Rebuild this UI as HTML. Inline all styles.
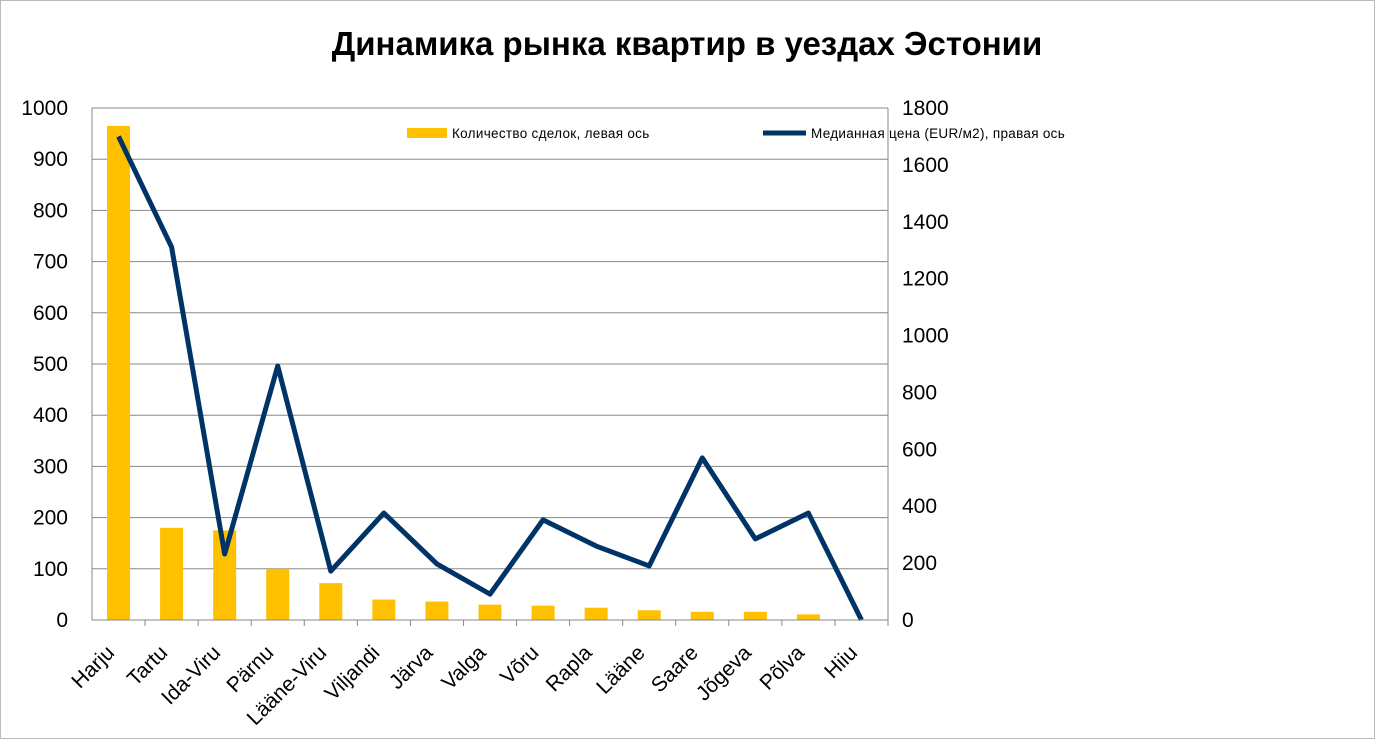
<!DOCTYPE html>
<html><head><meta charset="utf-8"><style>
body{margin:0;background:#fff;}
svg{display:block;font-family:"Liberation Sans",sans-serif;}
</style></head><body>
<svg id="chart" width="1375" height="739">
<rect x="0.5" y="0.5" width="1374" height="738" fill="#fff" stroke="#bbb"/>
<text x="687" y="55" text-anchor="middle" font-size="33" font-weight="bold">Динамика рынка квартир в уездах Эстонии</text>
<g id="grid"></g><g id="bars"></g><g id="line"></g><g id="axes"></g>
<g>
<rect x="407" y="128" width="40" height="10" fill="#FFC000"/>
<text x="452" y="138" font-size="13.5" letter-spacing="0.3">Количество сделок, левая ось</text>
<line x1="763" y1="133" x2="806" y2="133" stroke="#003366" stroke-width="5"/>
<text x="811" y="138" font-size="13.5" letter-spacing="0.3">Медианная цена (EUR/м2), правая ось</text>
</g>
</svg>
<script>
const categories=["Harju","Tartu","Ida-Viru","Pärnu","Lääne-Viru","Viljandi","Järva","Valga","Võru","Rapla","Lääne","Saare","Jõgeva","Põlva","Hiiu"];
const deals=[965,180,175,100,72,40,36,30,28,24,19,16,16,11,0];
const prices=[1700,1311,232,893,172,376,197,91,352,260,190,570,285,376,0];
const leftTicks=[0,100,200,300,400,500,600,700,800,900,1000];
const rightTicks=[0,200,400,600,800,1000,1200,1400,1600,1800];
const NS="http://www.w3.org/2000/svg";
const X0=92,X1=888,Y0=620,Y1=108;
const bw=(X1-X0)/categories.length;
const xc=i=>X0+bw*(i+0.5);
const yL=v=>Y0-(v/1000)*(Y0-Y1);
const yR=v=>Y0-(v/1800)*(Y0-Y1);
function mk(tag,attrs,parent){const e=document.createElementNS(NS,tag);for(const k in attrs)e.setAttribute(k,attrs[k]);document.getElementById(parent).appendChild(e);return e;}
leftTicks.forEach(t=>{
 const l=mk("line",{x1:X0,x2:X1,y1:yL(t),y2:yL(t),stroke:"#888","stroke-width":1},"grid");
 
 
 const tx=mk("text",{x:68,y:yL(t)+7,"text-anchor":"end","font-size":21},"axes");
 tx.textContent=t;
 
 
});
rightTicks.forEach(t=>{
 const tx=mk("text",{x:902,y:yR(t)+7,"font-size":21},"axes");
 tx.textContent=t;
 
 
});
const la=mk("line",{x1:X0,x2:X0,y1:Y1,y2:Y0,stroke:"#888"},"axes");


const ra=mk("line",{x1:X1,x2:X1,y1:Y1,y2:Y0,stroke:"#888"},"axes");


categories.forEach((c,i)=>{
 const b=mk("rect",{x:xc(i)-11.5,y:yL(deals[i]),width:23,height:Y0-yL(deals[i]),fill:"#FFC000"},"bars");
 
 
 const tk=mk("line",{x1:X0+bw*(i+1),x2:X0+bw*(i+1),y1:Y0,y2:Y0+6,stroke:"#888"},"axes");
 
 
 const ax=xc(i)-3, ay=Y0+34;
 const tx=mk("text",{x:ax,y:ay,"text-anchor":"end","font-size":21,transform:`rotate(-45 ${ax} ${ay})`},"axes");
 tx.textContent=c;
 
 
});
const bl=mk("line",{x1:X0,x2:X1,y1:Y0,y2:Y0,stroke:"#888"},"axes");


const pl=mk("polyline",{points:prices.map((p,i)=>xc(i)+","+yR(p)).join(" "),fill:"none",stroke:"#003366","stroke-width":5,"stroke-linejoin":"round"},"line");


</script>
</body></html>
